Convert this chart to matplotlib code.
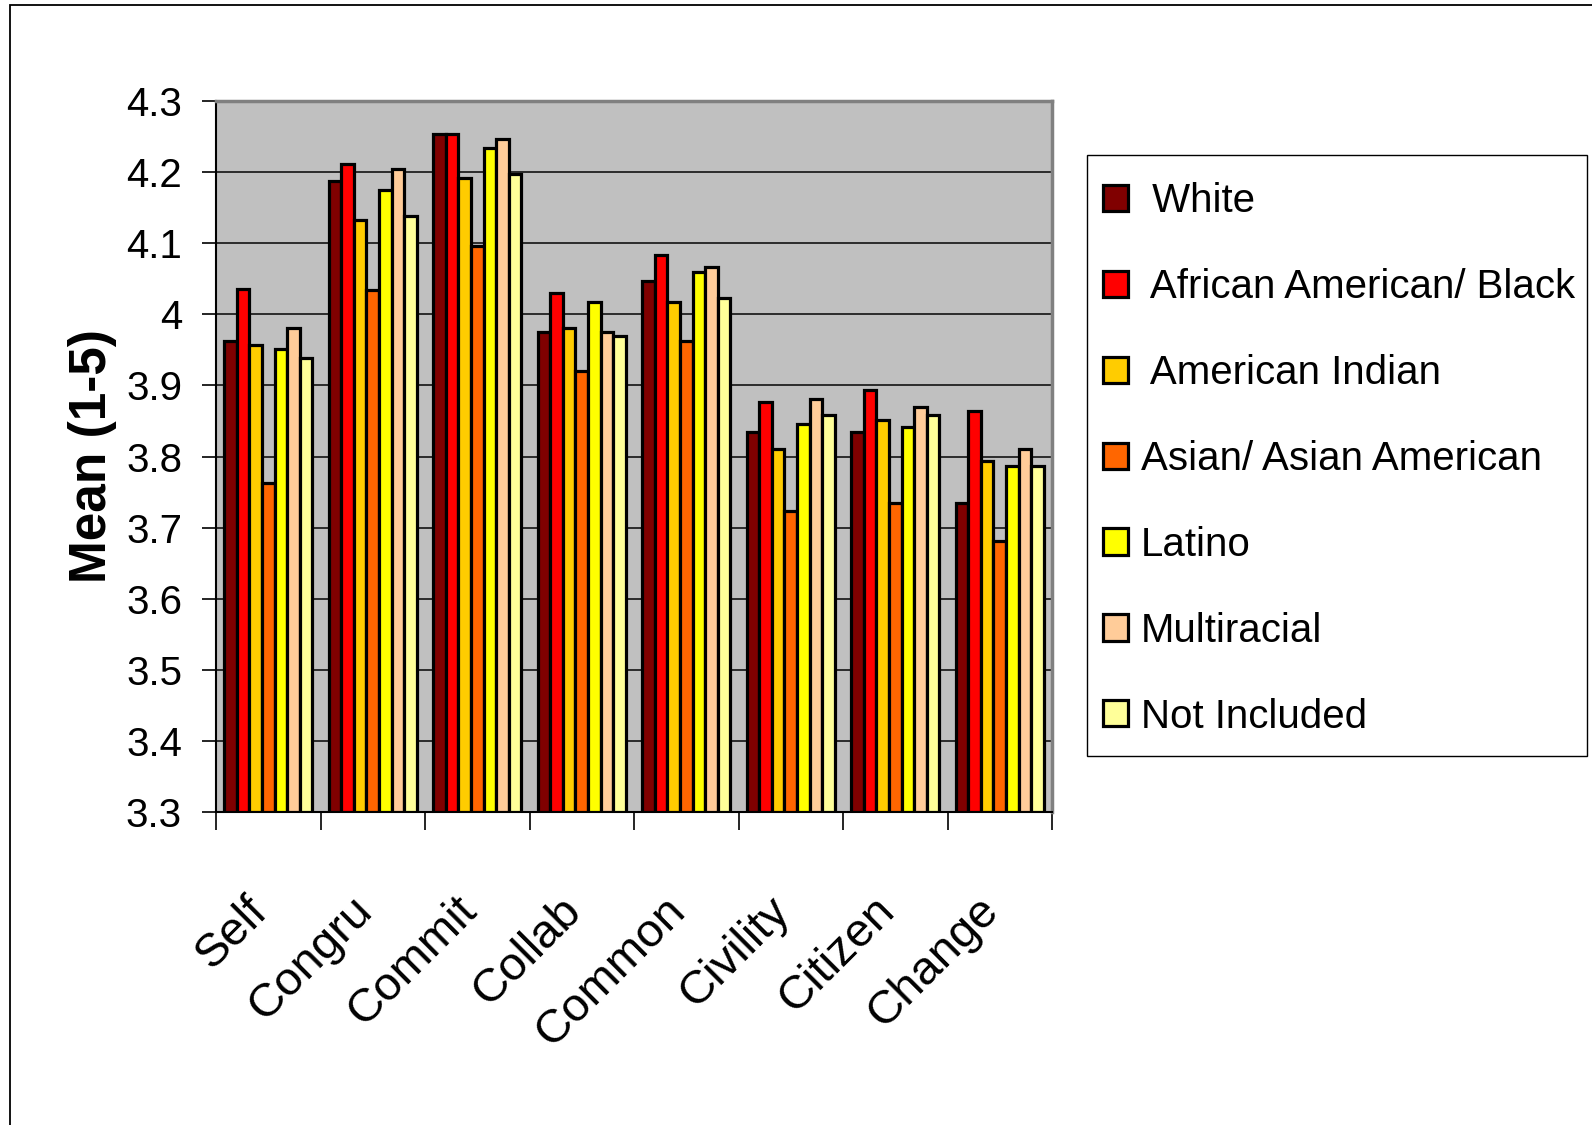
import numpy as np
import matplotlib
matplotlib.use("Agg")
import matplotlib.pyplot as plt
from matplotlib.patches import Rectangle
from matplotlib.transforms import ScaledTranslation

plt.rcParams['font.family'] = ['Liberation Sans', 'DejaVu Sans']

# ---- data -------------------------------------------------------------
categories = ["Self", "Congru", "Commit", "Collab", "Common", "Civility", "Citizen", "Change"]
series_names = [" White", " African American/ Black", " American Indian",
                "Asian/ Asian American", "Latino", "Multiracial", "Not Included"]

white        = [3.963, 4.187, 4.253, 3.975, 4.047, 3.835, 3.835, 3.735]
african_am   = [4.035, 4.211, 4.253, 4.030, 4.083, 3.876, 3.894, 3.864]
american_ind = [3.957, 4.133, 4.192, 3.981, 4.018, 3.811, 3.852, 3.793]
asian_am     = [3.763, 4.034, 4.096, 3.920, 3.962, 3.723, 3.734, 3.681]
latino       = [3.951, 4.175, 4.234, 4.017, 4.059, 3.846, 3.841, 3.787]
multiracial  = [3.981, 4.204, 4.247, 3.975, 4.066, 3.881, 3.870, 3.810]
not_included = [3.939, 4.138, 4.198, 3.969, 4.023, 3.859, 3.859, 3.787]

y_ticks = [3.3, 3.4, 3.5, 3.6, 3.7, 3.8, 3.9, 4.0, 4.1, 4.2, 4.3]
y_tick_labels = ["3.3", "3.4", "3.5", "3.6", "3.7", "3.8", "3.9", "4", "4.1", "4.2", "4.3"]

series_values = [white, african_am, american_ind, asian_am, latino, multiracial, not_included]
colors = ["#800000", "#FF0000", "#FFCC00", "#FF6600", "#FFFF00", "#FFCC99", "#FFFF99"]

# ---- figure -----------------------------------------------------------
W, H = 1592, 1125
fig = plt.figure(figsize=(W / 100, H / 100), dpi=100)
fig.patch.set_facecolor("white")

# outer frame (left and top edges visible)
fig.add_artist(Rectangle((10 / W, -0.05), 1.2, 1 - 5 / H + 0.05,
                         transform=fig.transFigure, fill=False,
                         edgecolor="black", linewidth=1.3))

left, right = 216 / W, 1052 / W
top, bottom = 1 - 101 / H, 1 - 812 / H
ax = fig.add_axes([left, bottom, right - left, top - bottom])
ax.set_facecolor("#C0C0C0")

n_series = len(series_values)
x = np.arange(len(categories))
group_w = 0.845
bar_w = group_w / n_series

for i, (vals, col, name) in enumerate(zip(series_values, colors, series_names)):
    offs = -group_w / 2 + bar_w * (i + 0.5)
    ax.bar(x + offs, np.array(vals) - 3.3, bar_w, bottom=3.3, color=col,
           edgecolor="black", linewidth=2.3, label=name, zorder=3,
           joinstyle="miter")

ax.set_xlim(-0.5, len(categories) - 0.5)
ax.set_ylim(3.3, 4.3)

# gridlines
ax.set_yticks(y_ticks)
ax.set_yticklabels(y_tick_labels, fontsize=29)
ax.yaxis.grid(True, color="#202020", linewidth=1.3, zorder=1)
ax.set_axisbelow(True)
ax.tick_params(axis="y", direction="out", length=10, width=1.2, pad=14.5, color="black")

# category boundaries as major ticks, names on minor ticks
ax.set_xticks(np.arange(len(categories) + 1) - 0.5)
ax.set_xticklabels([])
ax.tick_params(axis="x", which="major", direction="out", length=13, width=1.2, color="black")
ax.set_xticks(x, categories, minor=True)
ax.tick_params(axis="x", which="minor", length=0, pad=52, labelsize=34)
shift = ScaledTranslation(-23 / 100, -4 / 100, fig.dpi_scale_trans)
for lbl in ax.get_xticklabels(minor=True):
    lbl.set_rotation(45)
    lbl.set_ha("right")
    lbl.set_va("top")
    lbl.set_rotation_mode("anchor")
    lbl.set_transform(lbl.get_transform() + shift)

for side in ("top", "right"):
    ax.spines[side].set_color("#808080")
    ax.spines[side].set_linewidth(2.5)
for side in ("left", "bottom"):
    ax.spines[side].set_color("black")
    ax.spines[side].set_linewidth(1.5)

ax.set_ylabel("Mean (1-5)", fontsize=37, fontweight="bold")
ax.yaxis.set_label_coords(-0.148, 0.5)
ax.yaxis.label.set_va("center")

# legend: entries without frame, box drawn separately
fig.add_artist(Rectangle((1087 / W, 1 - 756 / H), 500 / W, 601 / H,
                         transform=fig.transFigure, facecolor="white",
                         edgecolor="black", linewidth=1.0, zorder=4))
handles, labels = ax.get_legend_handles_labels()
leg = fig.legend(handles, labels, loc="upper left",
                 bbox_to_anchor=(1103 / W, 1 - 182 / H),
                 borderaxespad=0, borderpad=0, fontsize=29,
                 handlelength=0.62, handleheight=0.62, handletextpad=0.32,
                 labelspacing=1.19, frameon=False)
leg.set_zorder(5)

fig.savefig("out.png", dpi=100, facecolor="white")
